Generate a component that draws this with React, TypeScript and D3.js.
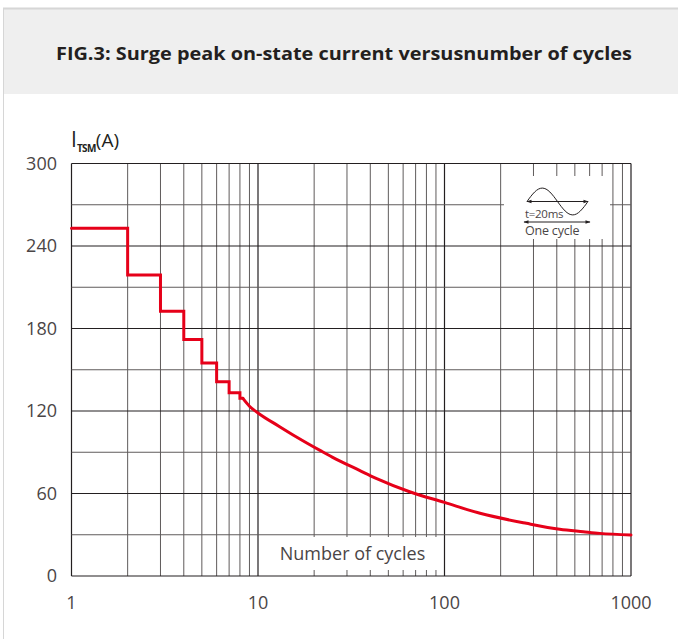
import { useRef, useEffect } from "react";
import * as d3 from "d3";

// staircase part (cycles -> peak current)
const stepCycles = [1, 2, 3, 4, 5, 6, 7, 8, 8.3];
const stepCurrent = [253, 219, 192.5, 172, 155, 141.3, 133.3, 129.2, 129.2];

// smooth part after the steps
const curveCycles = [8.3, 9, 10, 13, 16, 22, 25, 35, 43, 65, 100, 155, 275, 415, 555, 680, 1000];
const curveCurrent = [129.2, 123.5, 118.6, 108.8, 101.3, 90.6, 86.5, 76.8, 71, 61.3, 53.5, 45.6, 38.3, 34, 32.2, 31, 29.8];

const yTicks = [0, 60, 120, 180, 240, 300];
const xTicks = [1, 10, 100, 1000];
const title = "FIG.3: Surge peak on-state current versusnumber of cycles";

const W = 678;
const H = 639;

export default function App() {
  const svgRef = useRef<SVGSVGElement>(null);

  useEffect(() => {
    if (!svgRef.current) return;
    const svg = d3.select(svgRef.current);
    svg.selectAll("*").remove();

    const font = "'Open Sans', 'Noto Sans', sans-serif";
    const x = d3.scaleLog().domain([1, 1000]).range([71.5, 631]);
    const y = d3.scaleLinear().domain([0, 300]).range([576, 163.5]);

    // header band
    svg.append("rect").attr("x", 3).attr("y", 9).attr("width", W - 3).attr("height", 85).attr("fill", "#efefef");
    svg.append("line").attr("x1", 3).attr("x2", W).attr("y1", 8.5).attr("y2", 8.5).attr("stroke", "#d6d6d6").attr("stroke-width", 2);
    svg.append("line").attr("x1", 3.5).attr("x2", 3.5).attr("y1", 8).attr("y2", H).attr("stroke", "#d6d6d6").attr("stroke-width", 1);
    svg.append("text").attr("x", 344).attr("y", 60).attr("text-anchor", "middle")
      .attr("font-family", font).attr("font-weight", 700).attr("font-size", 18.5).attr("fill", "#231f20")
      .attr("textLength", 576).attr("lengthAdjust", "spacingAndGlyphs")
      .text(title);

    const g = svg.append("g");

    // grid
    const minor: number[] = [];
    [1, 10, 100].forEach((d) => d3.range(2, 10).forEach((k) => minor.push(d * k)));
    g.selectAll(".vminor").data(minor).enter().append("line")
      .attr("x1", (d) => x(d)).attr("x2", (d) => x(d)).attr("y1", y(300)).attr("y2", y(0))
      .attr("stroke", "#5f5b5b").attr("stroke-width", 1);
    g.selectAll(".vmajor").data(xTicks).enter().append("line")
      .attr("x1", (d) => x(d)).attr("x2", (d) => x(d)).attr("y1", y(300)).attr("y2", y(0))
      .attr("stroke", "#231f20").attr("stroke-width", 1.2);
    const hLines = d3.range(0, 301, 30);
    g.selectAll(".h").data(hLines).enter().append("line")
      .attr("x1", x(1)).attr("x2", x(1000)).attr("y1", (d) => y(d)).attr("y2", (d) => y(d))
      .attr("stroke", (d) => (d % 60 === 0 ? "#231f20" : "#5f5b5b")).attr("stroke-width", 1.2);

    // axis label box (covers grid)
    g.append("rect").attr("x", 268).attr("y", 537).attr("width", 169).attr("height", 33).attr("fill", "#fff");
    g.append("text").attr("x", 352.5).attr("y", 560).attr("text-anchor", "middle")
      .attr("font-family", font).attr("font-size", 18).attr("fill", "#4a4546").text("Number of cycles");

    // inset: one cycle
    const ins = g.append("g");
    ins.append("rect").attr("x", 504).attr("y", 176).attr("width", 106).attr("height", 63).attr("fill", "#fff");
    const defs = svg.append("defs");
    defs.append("marker").attr("id", "arr").attr("viewBox", "0 0 10 10").attr("refX", 9).attr("refY", 5)
      .attr("markerWidth", 6).attr("markerHeight", 5).attr("orient", "auto-start-reverse")
      .append("path").attr("d", "M0,1.5 L10,5 L0,8.5 Z").attr("fill", "#231f20");
    const sx = d3.scaleLinear().domain([0, 2 * Math.PI]).range([527, 588]);
    const sy = d3.scaleLinear().domain([-1, 1]).range([215, 188]);
    const wave = d3.line<number>().x((t) => sx(t)).y((t) => sy(Math.sin(t))).curve(d3.curveBasis);
    ins.append("path").datum(d3.range(0, 2 * Math.PI + 0.01, Math.PI / 16)).attr("d", wave)
      .attr("fill", "none").attr("stroke", "#231f20").attr("stroke-width", 1);
    ins.append("line").attr("x1", 527).attr("x2", 588).attr("y1", 201.5).attr("y2", 201.5)
      .attr("stroke", "#231f20").attr("stroke-width", 1)
      .attr("marker-start", "url(#arr)").attr("marker-end", "url(#arr)");
    ins.append("text").attr("x", 525).attr("y", 218).attr("font-family", font).attr("font-size", 11.5)
      .attr("fill", "#4a4546").attr("letter-spacing", -0.3).text("t=20ms");
    ins.append("line").attr("x1", 524).attr("x2", 590).attr("y1", 222).attr("y2", 222)
      .attr("stroke", "#231f20").attr("stroke-width", 1)
      .attr("marker-start", "url(#arr)").attr("marker-end", "url(#arr)");
    ins.append("text").attr("x", 525).attr("y", 234.5).attr("font-family", font).attr("font-size", 12.5)
      .attr("fill", "#4a4546").attr("letter-spacing", -0.2).text("One  cycle");

    // tick labels
    g.selectAll(".yl").data(yTicks).enter().append("text")
      .attr("x", 57).attr("y", (d) => y(d)).attr("dy", "0.36em").attr("text-anchor", "end")
      .attr("font-family", font).attr("font-size", 18).attr("fill", "#4a4546").text((d) => d);
    g.selectAll(".xl").data(xTicks).enter().append("text")
      .attr("x", (d) => x(d)).attr("y", 609).attr("text-anchor", "middle")
      .attr("font-family", font).attr("font-size", 18).attr("fill", "#4a4546").text((d) => d);

    // y title
    const yt = g.append("text").attr("x", 71).attr("y", 147).attr("font-family", font).attr("fill", "#231f20");
    yt.append("tspan").attr("font-size", 21).text("I");
    yt.append("tspan").attr("font-size", 10).attr("font-weight", 700).attr("dy", 5).attr("letter-spacing", -0.6).text("TSM");
    yt.append("tspan").attr("font-size", 19).attr("dy", -5).text("(A)");

    // red curve
    const stepLine = d3.line<number>().x((_, i) => x(stepCycles[i])).y((v) => y(v)).curve(d3.curveStepAfter);
    g.append("path").datum(stepCurrent).attr("d", stepLine)
      .attr("fill", "none").attr("stroke", "#e60019").attr("stroke-width", 3).attr("stroke-linecap", "round");
    const smooth = d3.line<number>().x((_, i) => x(curveCycles[i])).y((v) => y(v)).curve(d3.curveMonotoneX);
    g.append("path").datum(curveCurrent).attr("d", smooth)
      .attr("fill", "none").attr("stroke", "#e60019").attr("stroke-width", 3)
      .attr("stroke-linejoin", "round").attr("stroke-linecap", "round");
  }, []);

  return (
    <div style={{ position: "absolute", left: 0, top: 0, width: W, height: H, background: "#fff" }}>
      <svg ref={svgRef} width={W} height={H} />
    </div>
  );
}
